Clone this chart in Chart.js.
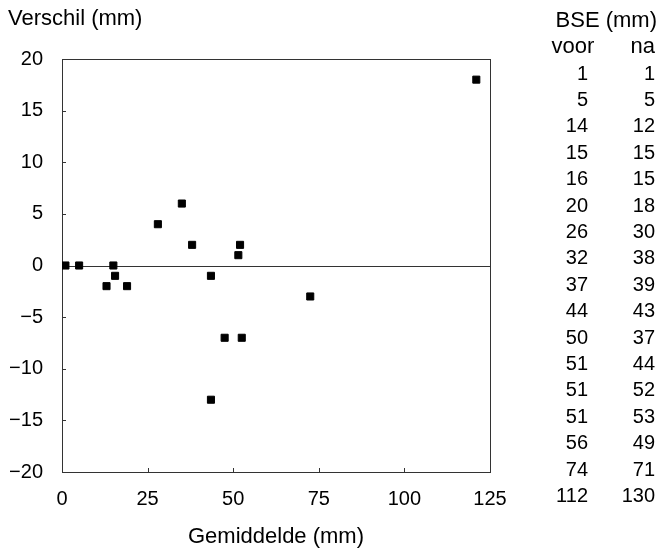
<!DOCTYPE html>
<html>
<head>
<meta charset="utf-8">
<script src="https://cdn.jsdelivr.net/npm/chart.js@4"></script>
<style>
  html, body { margin: 0; padding: 0; background: #fff; }
  #wrap { width: 660px; height: 553px; }
</style>
</head>
<body>
<div id="wrap"><canvas id="blandAltman" width="660" height="553"></canvas></div>
<script>
const voor = [1, 5, 14, 15, 16, 20, 26, 32, 37, 44, 50, 51, 51, 51, 56, 74, 112];
const na   = [1, 5, 12, 15, 15, 18, 30, 38, 39, 43, 37, 44, 52, 53, 49, 71, 130];
const gemiddelde = [1, 5, 13, 15, 15.5, 19, 28, 35, 38, 43.5, 43.5, 47.5, 51.5, 52, 52.5, 72.5, 121];
const verschil   = [0, 0, -2, 0, -1, -2, 4, 6, 2, -1, -13, -7, 1, 2, -7, -3, 18];
const xTicks = [0, 25, 50, 75, 100, 125];
const yTicks = [-20, -15, -10, -5, 0, 5, 10, 15, 20];

const FONT = "'Liberation Sans', Arial, Helvetica, sans-serif";
const INK = '#000';

const points = gemiddelde.map((g, i) => ({ x: g, y: verschil[i] }));

// frame, zero line, inward ticks, y title and the BSE table
const extras = {
  id: 'extras',
  beforeDatasetsDraw(chart) {
    const { ctx, chartArea: a, scales: { x, y } } = chart;
    ctx.save();
    ctx.strokeStyle = '#333';
    ctx.lineWidth = 1;
    ctx.strokeRect(a.left + 0.5, a.top + 0.5, a.right - a.left, a.bottom - a.top);
    const y0 = Math.round(y.getPixelForValue(0)) + 0.5;
    ctx.beginPath();
    ctx.moveTo(a.left, y0); ctx.lineTo(a.right, y0);
    yTicks.forEach(v => {
      const py = Math.round(y.getPixelForValue(v)) + 0.5;
      ctx.moveTo(a.left, py); ctx.lineTo(a.left + 4, py);
    });
    xTicks.forEach(v => {
      const px = Math.round(x.getPixelForValue(v)) + 0.5;
      ctx.moveTo(px, a.bottom); ctx.lineTo(px, a.bottom - 4);
    });
    ctx.stroke();
    ctx.restore();
  },
  afterDraw(chart) {
    const { ctx } = chart;
    ctx.save();
    ctx.fillStyle = INK;
    ctx.textBaseline = 'middle';
    ctx.font = '22px ' + FONT;
    ctx.textAlign = 'left';
    ctx.fillText('Verschil (mm)', 8, 19);

    ctx.textAlign = 'right';
    ctx.fillText('BSE (mm)', 657, 21);
    ctx.fillText('na', 655, 47);
    ctx.textAlign = 'center';
    ctx.fillText('voor', 573, 47);

    ctx.font = '20px ' + FONT;
    ctx.textAlign = 'right';
    voor.forEach((v, i) => {
      const ry = 74 + i * 26.4;
      ctx.fillText(String(v), 588, ry);
      ctx.fillText(String(na[i]), 655, ry);
    });
    ctx.restore();
  }
};

new Chart(document.getElementById('blandAltman').getContext('2d'), {
  type: 'scatter',
  data: {
    datasets: [{
      data: points,
      pointStyle: 'rect',
      pointRadius: 5,
      borderWidth: 1,
      backgroundColor: '#000',
      borderColor: '#000'
    }]
  },
  options: {
    responsive: false,
    animation: false,
    layout: { padding: { top: 59, right: 170, left: 0, bottom: 0 } },
    plugins: { legend: { display: false }, tooltip: { enabled: false } },
    scales: {
      x: {
        type: 'linear', min: 0, max: 125,
        afterBuildTicks: s => { s.ticks = xTicks.map(v => ({ value: v })); },
        ticks: { padding: 15, color: INK, font: { family: FONT, size: 20 } },
        grid: { display: false, drawTicks: false },
        border: { display: false },
        title: { display: true, text: 'Gemiddelde (mm)', color: INK,
                 font: { family: FONT, size: 22 }, padding: { top: 0, bottom: 3 } },
        afterFit: s => { s.height = 81; s.paddingLeft = 0; s.paddingRight = 0; }
      },
      y: {
        type: 'linear', min: -20, max: 20,
        afterBuildTicks: s => { s.ticks = yTicks.map(v => ({ value: v })); },
        ticks: { padding: 19, color: INK, font: { family: FONT, size: 20 },
                 callback: v => String(v).replace('-', '\u2212') },
        grid: { display: false, drawTicks: false },
        border: { display: false },
        afterFit: s => { s.width = 62; s.paddingTop = 0; s.paddingBottom = 0; }
      }
    }
  },
  plugins: [extras]
});
</script>
</body>
</html>
